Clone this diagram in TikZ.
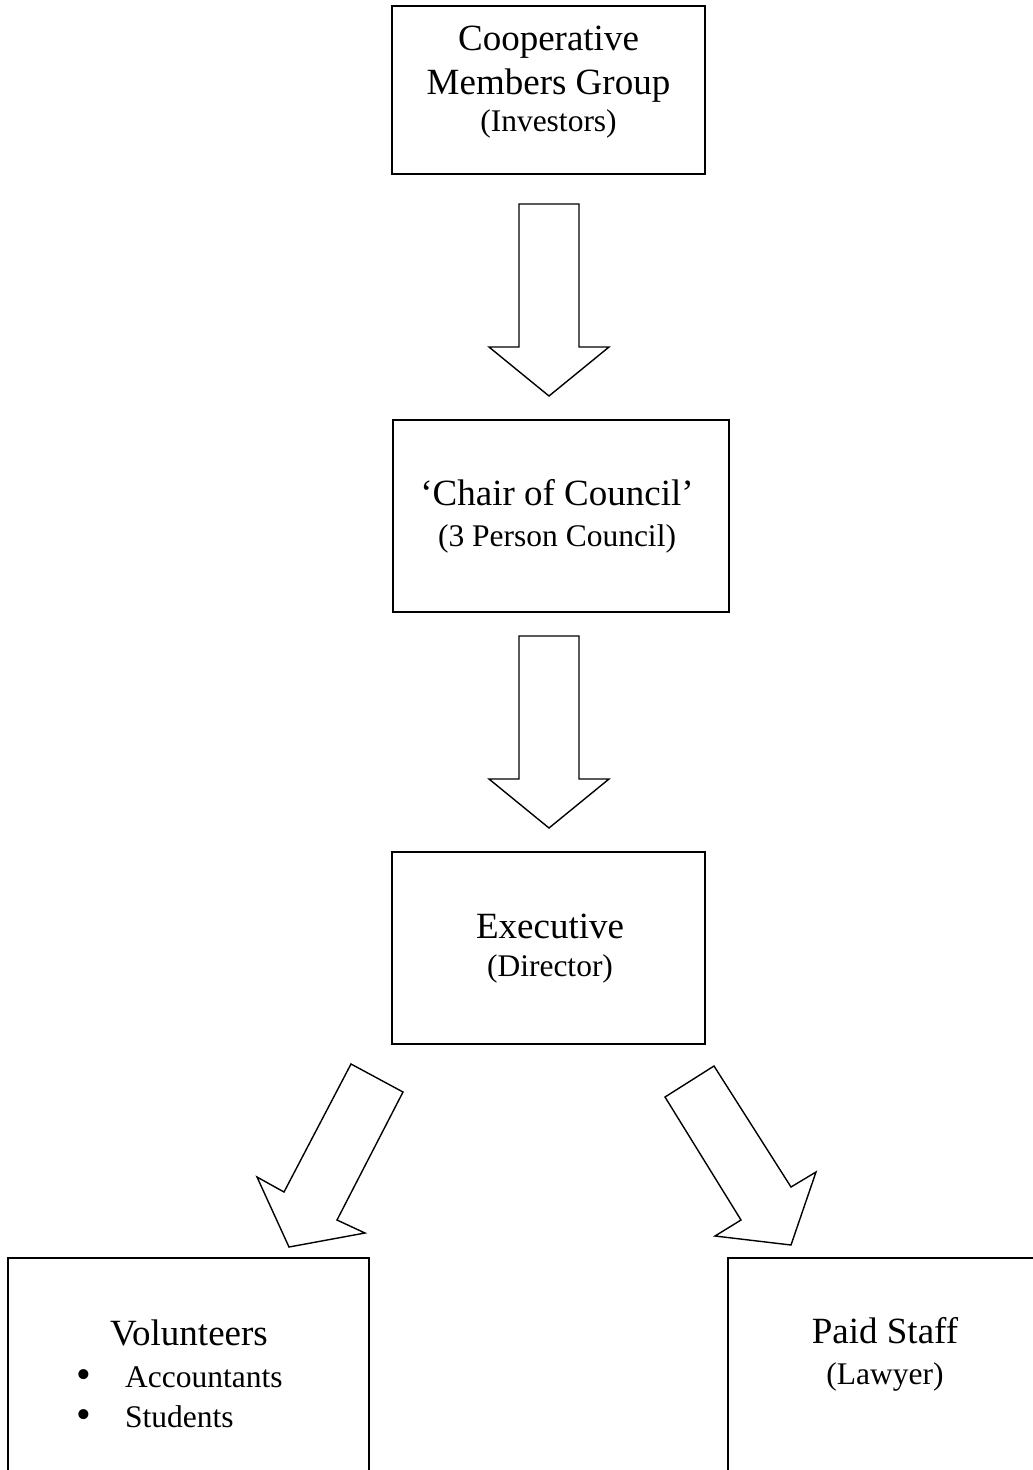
\documentclass[tikz,border=0pt]{standalone}
\usepackage{fontspec}
\setmainfont{Liberation Serif}
\begin{document}
\begin{tikzpicture}[x=1pt,y=-1pt,
  box/.style={draw, line width=2pt, rectangle, inner sep=0pt, outer sep=0pt},
  bigarrow/.style={draw, line width=1.4pt, fill=white, line join=miter},
  maintext/.style={anchor=base, inner sep=0pt, font=\fontsize{37}{40}\selectfont},
  subtext/.style={anchor=base, inner sep=0pt, font=\fontsize{31.5}{36}\selectfont},
  itemtext/.style={anchor=base west, inner sep=0pt, font=\fontsize{31.5}{36}\selectfont},
  bullettext/.style={anchor=center, inner sep=0pt, align=center, font=\fontsize{42}{40}\selectfont}]
\useasboundingbox (0,0) rectangle (1033,1470);
\clip (0,0) rectangle (1033,1470);
\fill[white] (0,0) rectangle (1033,1470);

% boxes
\node[box, minimum width=313pt, minimum height=168pt] (coop) at (548.5,90) {};
\node[box, minimum width=336pt, minimum height=192pt] (chair) at (561,516) {};
\node[box, minimum width=313pt, minimum height=192pt] (exec) at (548.5,948) {};
\node[box, minimum width=361pt, minimum height=242pt] (vol) at (188.5,1379) {};
\node[box, minimum width=314pt, minimum height=242pt] (paid) at (885,1379) {};

% texts
\node[maintext] (t1) at (548.5,50) {Cooperative};
\node[maintext] (t2) at (548.5,94) {Members Group};
\node[subtext] (t3) at (548.5,131) {(Investors)};

\node[maintext] (t4) at (557,505) {‘Chair of Council’};
\node[subtext] (t5) at (557,546) {(3 Person Council)};

\node[maintext] (t6) at (550,938) {Executive};
\node[subtext] (t7) at (550,976) {(Director)};

\node[maintext] (t8) at (189,1345) {Volunteers};
\node[bullettext] (bl) at (84,1399) {•\\•};
\node[itemtext] (t9) at (125,1387) {Accountants};
\node[itemtext] (t10) at (125,1427) {Students};

\node[maintext] (t11) at (885,1343) {Paid Staff};
\node[subtext] (t12) at (885,1384) {(Lawyer)};

% block arrows
\draw[bigarrow] (519,204) -- (579,204) -- (579,347) -- (609,347) -- (549,396)
  -- (489,347) -- (519,347) -- cycle;
\draw[bigarrow] (519,636) -- (579,636) -- (579,779) -- (609,779) -- (549,828)
  -- (489,779) -- (519,779) -- cycle;
\draw[bigarrow] (351,1064) -- (403,1092) -- (337,1220) -- (365,1233) -- (289,1247)
  -- (257,1177) -- (284,1192) -- cycle;
\draw[bigarrow] (714,1066) -- (665,1097) -- (741,1220) -- (715,1236) -- (791,1245)
  -- (816,1172) -- (791,1187) -- cycle;
\end{tikzpicture}
\end{document}
